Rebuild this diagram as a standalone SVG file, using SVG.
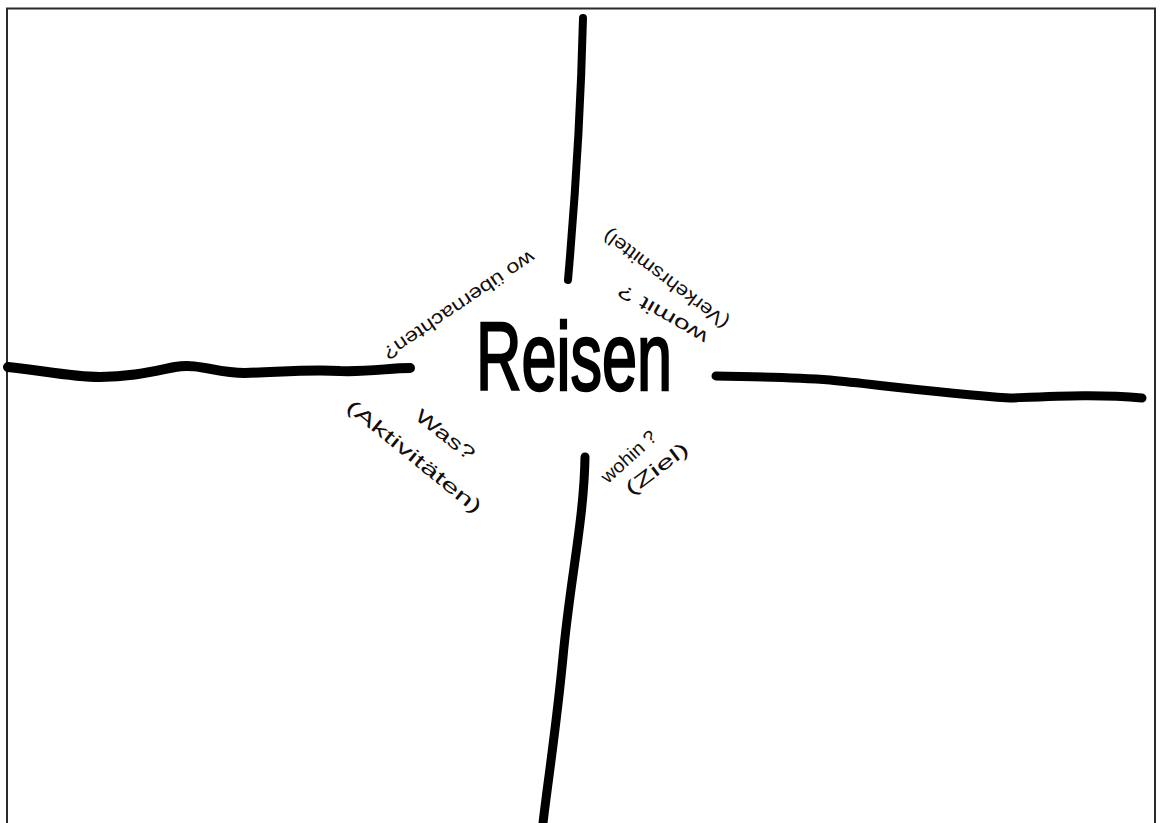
<svg xmlns="http://www.w3.org/2000/svg" width="1162" height="823" viewBox="0 0 1162 823">
  <style>
    .line { fill: none; stroke: #000; stroke-linecap: round; stroke-linejoin: round; }
    .frame { fill: none; stroke: #2a2a2a; stroke-width: 2; }
    .lbl { font-family: "Liberation Sans", "DejaVu Sans", sans-serif; font-size: 19px; fill: #150d0a; text-anchor: middle; }
    .title { font-family: "Liberation Sans", "DejaVu Sans", sans-serif; font-size: 96px; fill: #000; stroke: #000; stroke-width: 2.5; }
  </style>
  <rect width="1162" height="823" fill="#ffffff"/>
  <g id="frame">
    <path class="frame" d="M7 823 V8.5 H1155 V823"/>
  </g>
  <g id="connectors">
    <path class="line" stroke-width="8" d="M583 18 C581 100 575 200 568 280"/>
    <path class="line" stroke-width="9" d="M585 457 C584 520 570 580 563 657 C556 730 548 780 543 823"/>
    <path class="line" stroke-width="10" d="M8 367 C40 370 70 377 100 377 C130 377 150 372 175 367 C200 363 215 373 245 373 C280 372 310 369 340 371 C370 372 390 368 410 368"/>
    <path class="line" stroke-width="9" d="M716 376 C760 377 790 377 830 380 C880 385 940 393 1010 398 C1060 396 1100 394 1142 398"/>
  </g>
  <g id="center">
    <text class="title" x="476" y="390" textLength="196" lengthAdjust="spacingAndGlyphs">Reisen</text>
  </g>
  <g id="node-top-left">
    <text class="lbl" transform="translate(459,305) rotate(146)" y="6" textLength="178" lengthAdjust="spacingAndGlyphs">wo übernachten?</text>
  </g>
  <g id="node-top-right">
    <text class="lbl" transform="translate(663,314) rotate(210)" y="6" textLength="100" lengthAdjust="spacingAndGlyphs">womit ?</text>
    <text class="lbl" transform="translate(666,279) rotate(217)" y="6" textLength="152" lengthAdjust="spacingAndGlyphs">(Verkehrsmittel)</text>
  </g>
  <g id="node-bottom-left">
    <text class="lbl" transform="translate(445,435) rotate(38)" y="6" textLength="70" lengthAdjust="spacingAndGlyphs">Was?</text>
    <text class="lbl" transform="translate(414,457) rotate(39)" y="6" textLength="168" lengthAdjust="spacingAndGlyphs">(Aktivitäten)</text>
  </g>
  <g id="node-bottom-right">
    <text class="lbl" transform="translate(629,457) rotate(-42)" y="6" textLength="68" lengthAdjust="spacingAndGlyphs">wohin ?</text>
    <text class="lbl" transform="translate(657,469) rotate(-37)" y="6" textLength="74" lengthAdjust="spacingAndGlyphs">(Ziel)</text>
  </g>
</svg>
